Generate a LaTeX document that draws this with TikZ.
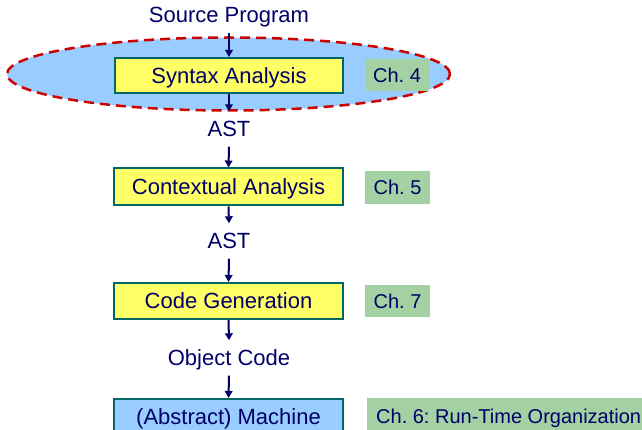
\documentclass[tikz,border=0pt]{standalone}
\usepackage{fontspec}
\setmainfont{Liberation Sans}
\usetikzlibrary{shapes.geometric,arrows.meta}
\definecolor{navy}{RGB}{0,0,102}
\definecolor{boxline}{RGB}{0,102,102}
\definecolor{yel}{RGB}{255,255,102}
\definecolor{lblue}{RGB}{153,204,255}
\definecolor{lgreen}{RGB}{163,209,163}
\definecolor{dred}{RGB}{204,0,0}
\tikzset{
  phase/.style={draw=boxline, line width=2pt, fill=yel, minimum height=35pt, inner sep=0pt,
    text=navy, font=\fontsize{22}{26}\selectfont, text height=15.7pt, text depth=0pt},
  machinebox/.style={phase, fill=lblue},
  chapter/.style={fill=lgreen, inner sep=0pt, text=navy, font=\fontsize{20}{24}\selectfont,
    text height=14.3pt, text depth=0pt},
  label/.style={inner sep=0pt, minimum height=35pt, text=navy, font=\fontsize{22}{26}\selectfont,
    text height=15.7pt, text depth=0pt},
  flow/.style={draw=navy, line width=2pt, -{Triangle[length=7pt,width=7.5pt]}},
}
\begin{document}
\frenchspacing
\begin{tikzpicture}[x=1pt,y=-1pt]
\clip (0,0) rectangle (642,430);
\fill[white] (0,0) rectangle (642,430);
% syntax-analysis scope
\node[ellipse, draw=dred, line width=2.5pt, dash pattern=on 10pt off 6pt, fill=lblue,
  minimum width=443pt, minimum height=73pt, inner sep=0pt] (oval) at (228.5,74) {};
% labels
\node[label] (src) at (229,15) {Source Program};
\node[label] (ast1) at (229,129) {AST};
\node[label] (ast2) at (229,241) {AST};
\node[label] (obj) at (229,358) {Object Code};
% phases
\node[phase, minimum width=228pt] (syn) at (229,75.5) {Syntax Analysis};
\node[phase, minimum width=229pt, minimum height=37pt] (ctx) at (228.5,187) {Contextual Analysis};
\node[phase, minimum width=229pt, minimum height=36pt] (gen) at (228.5,301) {Code Generation};
\node[machinebox, minimum width=229pt, minimum height=36pt, anchor=north] (mach) at (228.5,398) {(Abstract) Machine};
% chapters
\node[chapter, minimum width=64pt, minimum height=32pt] (ch4) at (397,75) {Ch. 4};
\node[chapter, minimum width=65pt, minimum height=33pt] (ch5) at (397.5,187.5) {Ch. 5};
\node[chapter, minimum width=65pt, minimum height=32pt] (ch7) at (397.5,301) {Ch. 7};
\node[chapter, anchor=north west, inner xsep=9pt, minimum height=36pt] (ch6) at (367,398) {Ch. 6: Run-Time Organization};
% flow
\draw[flow] (src.south) -- (syn.north);
\draw[flow] (syn.south) -- (ast1.north);
\draw[flow] (ast1.south) -- (ctx.north);
\draw[flow] (ctx.south) -- (ast2.north);
\draw[flow] (ast2.south) -- (gen.north);
\draw[flow] (gen.south) -- (obj.north);
\draw[flow] (obj.south) -- (mach.north);
\end{tikzpicture}
\end{document}
